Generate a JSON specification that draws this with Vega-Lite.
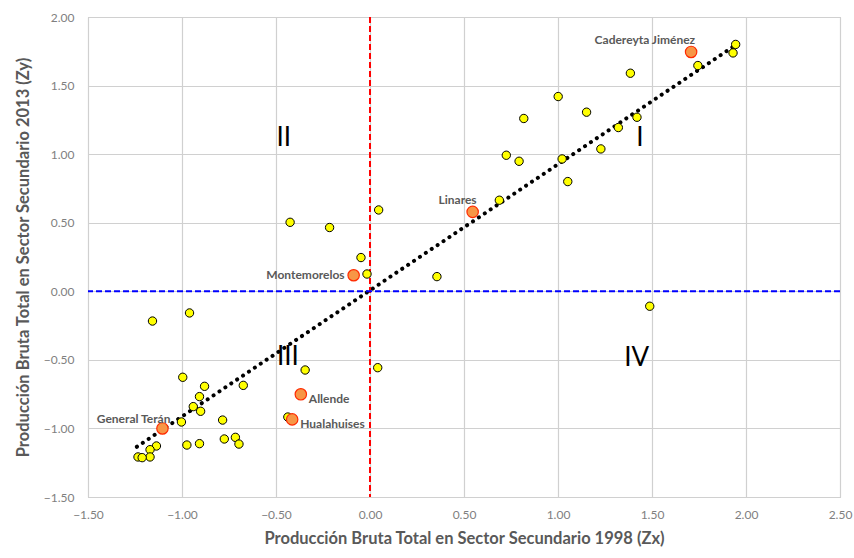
{
  "$schema": "https://vega.github.io/schema/vega-lite/v6.json",
  "width": 752,
  "height": 480,
  "autosize": {"type": "none"},
  "padding": {"left": 88, "top": 17, "right": 14, "bottom": 61},
  "background": "white",
  "config": {
    "font": "Lato",
    "view": {"stroke": "#bfbfbf", "strokeWidth": 1},
    "axis": {
      "grid": true, "gridColor": "#d0d0d0", "gridWidth": 1.2,
      "domain": false, "ticks": false, "labelFlush": false, "labelOverlap": false,
      "labelFont": "Lato", "labelFontSize": 12, "labelColor": "#7f7f7f",
      "titleFont": "Lato", "titleFontSize": 16.5, "titleFontWeight": "bold", "titleColor": "#595959"
    }
  },
  "datasets": {
    "pts": [
      {"zx": -1.157, "zy": -0.217, "name": ""},
      {"zx": -0.96, "zy": -0.158, "name": ""},
      {"zx": -0.996, "zy": -0.627, "name": ""},
      {"zx": -0.88, "zy": -0.693, "name": ""},
      {"zx": -0.907, "zy": -0.768, "name": ""},
      {"zx": -0.94, "zy": -0.841, "name": ""},
      {"zx": -0.901, "zy": -0.875, "name": ""},
      {"zx": -1.003, "zy": -0.953, "name": ""},
      {"zx": -1.136, "zy": -1.128, "name": ""},
      {"zx": -1.17, "zy": -1.155, "name": ""},
      {"zx": -1.17, "zy": -1.208, "name": ""},
      {"zx": -1.234, "zy": -1.208, "name": ""},
      {"zx": -1.212, "zy": -1.213, "name": ""},
      {"zx": -0.974, "zy": -1.121, "name": ""},
      {"zx": -0.907, "zy": -1.111, "name": ""},
      {"zx": -0.784, "zy": -0.939, "name": ""},
      {"zx": -0.775, "zy": -1.077, "name": ""},
      {"zx": -0.716, "zy": -1.065, "name": ""},
      {"zx": -0.697, "zy": -1.114, "name": ""},
      {"zx": -0.674, "zy": -0.686, "name": ""},
      {"zx": -0.345, "zy": -0.574, "name": ""},
      {"zx": 0.041, "zy": -0.557, "name": ""},
      {"zx": -0.437, "zy": -0.917, "name": ""},
      {"zx": -0.425, "zy": 0.503, "name": ""},
      {"zx": -0.215, "zy": 0.465, "name": ""},
      {"zx": 0.046, "zy": 0.593, "name": ""},
      {"zx": -0.048, "zy": 0.246, "name": ""},
      {"zx": -0.016, "zy": 0.126, "name": ""},
      {"zx": 0.356, "zy": 0.107, "name": ""},
      {"zx": 0.688, "zy": 0.664, "name": ""},
      {"zx": 0.725, "zy": 0.992, "name": ""},
      {"zx": 0.793, "zy": 0.948, "name": ""},
      {"zx": 0.818, "zy": 1.26, "name": ""},
      {"zx": 1.001, "zy": 1.42, "name": ""},
      {"zx": 1.022, "zy": 0.965, "name": ""},
      {"zx": 1.052, "zy": 0.8, "name": ""},
      {"zx": 1.152, "zy": 1.306, "name": ""},
      {"zx": 1.228, "zy": 1.038, "name": ""},
      {"zx": 1.321, "zy": 1.194, "name": ""},
      {"zx": 1.385, "zy": 1.59, "name": ""},
      {"zx": 1.42, "zy": 1.269, "name": ""},
      {"zx": 1.744, "zy": 1.646, "name": ""},
      {"zx": 1.945, "zy": 1.8, "name": ""},
      {"zx": 1.931, "zy": 1.738, "name": ""},
      {"zx": 1.488, "zy": -0.109, "name": ""},
      {"zx": -1.104, "zy": -1.0, "name": "General Terán"},
      {"zx": -0.368, "zy": -0.751, "name": "Allende"},
      {"zx": -0.414, "zy": -0.934, "name": "Hualahuises"},
      {"zx": -0.087, "zy": 0.117, "name": "Montemorelos"},
      {"zx": 0.546, "zy": 0.579, "name": "Linares"},
      {"zx": 1.708, "zy": 1.745, "name": "Cadereyta Jiménez"}
    ],
    "quad": [
      {"zx": 1.435, "zy": 1.115, "q": "I"},
      {"zx": -0.459, "zy": 1.12, "q": "II"},
      {"zx": -0.437, "zy": -0.48, "q": "III"},
      {"zx": 1.419, "zy": -0.49, "q": "IV"}
    ],
    "zero": [{"v": 0}]
  },
  "layer": [
    {
      "data": {"name": "pts"},
      "transform": [{"regression": "zy", "on": "zx", "extent": [-1.24, 1.93]}],
      "mark": {"type": "line", "color": "black", "strokeWidth": 4, "strokeCap": "round", "strokeDash": [0.1, 7]},
      "encoding": {
        "x": {"field": "zx", "type": "quantitative", "scale": {"domain": [-1.5, 2.5], "nice": false, "zero": false},
              "axis": {"values": [-1.5, -1, -0.5, 0, 0.5, 1, 1.5, 2, 2.5], "format": ".2f", "labelPadding": 12, "titlePadding": 10,
                       "title": "Producción Bruta Total en Sector Secundario 1998 (Zx)"}},
        "y": {"field": "zy", "type": "quantitative", "scale": {"domain": [-1.5, 2.0], "nice": false, "zero": false},
              "axis": {"values": [-1.5, -1, -0.5, 0, 0.5, 1, 1.5, 2], "format": ".2f", "labelPadding": 14, "titlePadding": 12,
                       "title": "Producción Bruta Total en Sector Secundario 2013 (Zy)"}}
      }
    },
    {
      "data": {"name": "zero"},
      "mark": {"type": "rule", "color": "#ff0000", "strokeWidth": 2, "strokeDash": [6, 3]},
      "encoding": {"x": {"field": "v", "type": "quantitative"}}
    },
    {
      "data": {"name": "zero"},
      "mark": {"type": "rule", "color": "#0000ff", "strokeWidth": 2, "strokeDash": [6, 3]},
      "encoding": {"y": {"field": "v", "type": "quantitative"}}
    },
    {
      "data": {"name": "pts"},
      "transform": [{"filter": "datum.name === ''"}],
      "mark": {"type": "point", "filled": true, "fill": "#ffff00", "stroke": "black", "strokeWidth": 1, "size": 70, "opacity": 1},
      "encoding": {
        "x": {"field": "zx", "type": "quantitative"},
        "y": {"field": "zy", "type": "quantitative"}
      }
    },
    {
      "data": {"name": "pts"},
      "transform": [{"filter": "datum.name !== ''"}],
      "mark": {"type": "point", "filled": true, "fill": "#f79646", "stroke": "#ff2a00", "strokeWidth": 1.2, "size": 130, "opacity": 1},
      "encoding": {
        "x": {"field": "zx", "type": "quantitative"},
        "y": {"field": "zy", "type": "quantitative"}
      }
    },
    {
      "data": {"name": "pts"},
      "transform": [{"filter": "datum.name === 'Cadereyta Jiménez' || datum.name === 'Linares'"}],
      "mark": {"type": "text", "align": "right", "baseline": "middle", "dx": 4, "dy": -12, "font": "Lato", "fontSize": 12, "fontWeight": "bold", "color": "#595959"},
      "encoding": {
        "x": {"field": "zx", "type": "quantitative"},
        "y": {"field": "zy", "type": "quantitative"},
        "text": {"field": "name"}
      }
    },
    {
      "data": {"name": "pts"},
      "transform": [{"filter": "datum.name === 'Montemorelos'"}],
      "mark": {"type": "text", "align": "right", "baseline": "middle", "dx": -9, "dy": 0, "font": "Lato", "fontSize": 12, "fontWeight": "bold", "color": "#595959"},
      "encoding": {
        "x": {"field": "zx", "type": "quantitative"},
        "y": {"field": "zy", "type": "quantitative"},
        "text": {"field": "name"}
      }
    },
    {
      "data": {"name": "pts"},
      "transform": [{"filter": "datum.name === 'General Terán'"}],
      "mark": {"type": "text", "align": "right", "baseline": "middle", "dx": 8, "dy": -9, "font": "Lato", "fontSize": 12, "fontWeight": "bold", "color": "#595959"},
      "encoding": {
        "x": {"field": "zx", "type": "quantitative"},
        "y": {"field": "zy", "type": "quantitative"},
        "text": {"field": "name"}
      }
    },
    {
      "data": {"name": "pts"},
      "transform": [{"filter": "datum.name === 'Allende' || datum.name === 'Hualahuises'"}],
      "mark": {"type": "text", "align": "left", "baseline": "middle", "dx": 8, "dy": 5, "font": "Lato", "fontSize": 12, "fontWeight": "bold", "color": "#595959"},
      "encoding": {
        "x": {"field": "zx", "type": "quantitative"},
        "y": {"field": "zy", "type": "quantitative"},
        "text": {"field": "name"}
      }
    },
    {
      "data": {"name": "quad"},
      "mark": {"type": "text", "align": "center", "baseline": "middle", "font": "Lato", "fontSize": 26, "color": "black"},
      "encoding": {
        "x": {"field": "zx", "type": "quantitative"},
        "y": {"field": "zy", "type": "quantitative"},
        "text": {"field": "q"}
      }
    }
  ]
}
